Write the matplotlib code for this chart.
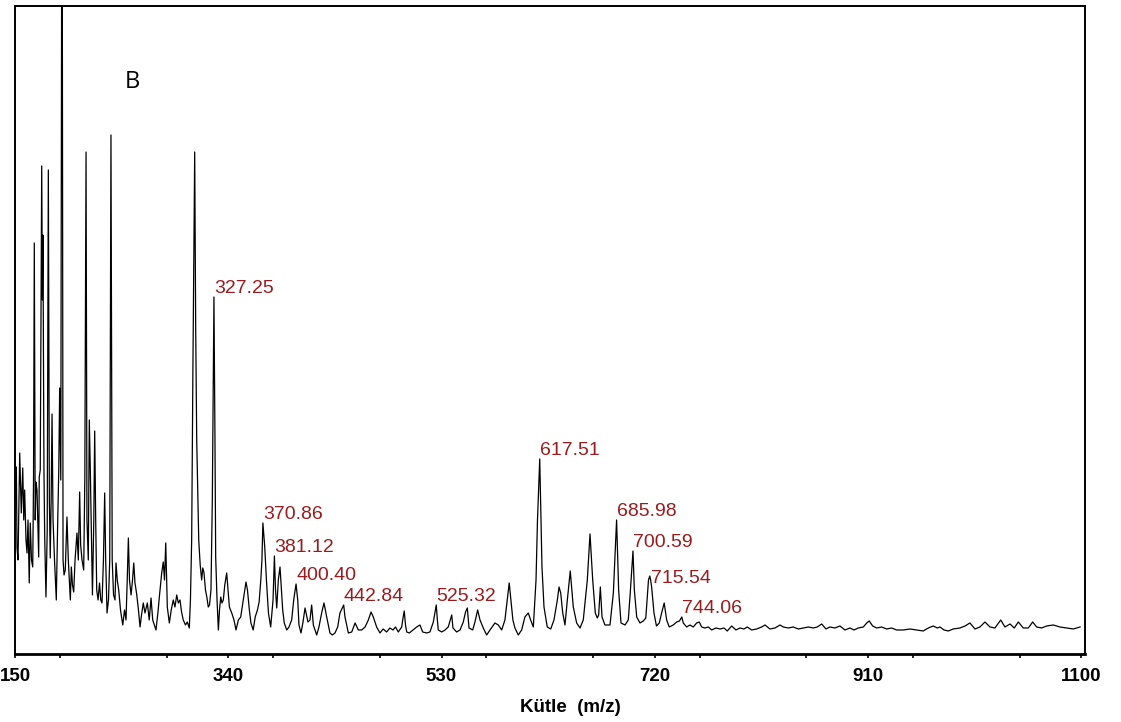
"""
Kütle spektrumu (B) - m/z 150-1100
"""

import matplotlib
matplotlib.use('Agg')
import matplotlib.pyplot as plt
from matplotlib.ticker import MultipleLocator

plt.rcParams['font.family'] = ['Liberation Sans', 'DejaVu Sans']

# spektrum: m/z ve şiddet (keyfi birim), resimden okunan köşe noktaları
spectrum_mz = [
    150.0, 151.2, 151.8, 152.7, 154.2, 155.6, 156.9, 157.8, 158.6, 159.8,
    160.7, 161.6, 162.7, 163.6, 164.7, 165.8, 166.5, 167.2, 168.0, 168.7,
    169.6, 170.5, 171.1, 171.6, 172.5, 173.8, 174.4, 174.9, 175.8, 176.5,
    177.6, 178.7, 179.7, 180.6, 181.4, 182.2, 183.0, 183.9, 185.2, 186.8,
    187.9, 189.0, 189.8, 190.8, 191.9, 192.8, 193.7, 194.8, 196.3, 197.5,
    199.3, 200.2, 201.2, 202.3, 203.5, 205.2, 206.4, 207.6, 208.5, 209.7,
    211.2, 212.2, 213.3, 214.1, 215.3, 216.2, 217.1, 218.2, 219.0, 220.2,
    221.0, 221.9, 222.8, 224.0, 225.3, 226.4, 227.5, 228.8, 229.9, 230.8,
    232.0, 233.3, 234.4, 235.5, 236.6, 237.8, 239.1, 240.0, 241.1, 242.4,
    244.0, 246.0, 247.6, 248.9, 250.0, 251.0, 252.0, 253.4, 254.7, 255.8,
    256.9, 258.4, 260.0, 261.4, 262.7, 264.3, 265.8, 267.9, 269.6, 271.2,
    272.7, 274.1, 275.6, 277.4, 278.6, 280.7, 282.1, 283.2, 284.3, 285.7,
    287.5, 289.2, 291.0, 292.5, 294.1, 295.5, 297.0, 298.4, 299.9, 301.9,
    303.5, 305.3, 306.3, 307.4, 308.5, 310.1, 311.0, 311.9, 313.7, 315.0,
    316.3, 317.3, 318.4, 319.7, 320.9, 322.2, 323.3, 324.6, 325.8, 327.25,
    328.1, 328.8, 330.0, 331.2, 332.2, 333.3, 334.4, 335.6, 336.9, 338.6,
    339.8, 341.0, 343.1, 345.1, 346.9, 349.0, 351.1, 353.4, 355.8, 357.1,
    358.8, 360.2, 362.2, 364.0, 366.0, 367.5, 369.0, 370.0, 370.86, 372.5,
    374.0, 375.8, 377.8, 379.9, 381.12, 382.1, 383.2, 384.6, 386.1, 387.4,
    388.5, 389.9, 392.1, 394.1, 396.5, 398.3, 400.40, 401.9, 403.0, 404.8,
    406.6, 408.4, 409.7, 411.0, 412.8, 414.3, 415.8, 418.8, 420.8, 423.2,
    425.3, 427.7, 430.6, 432.7, 435.1, 437.5, 439.5, 442.84, 444.0, 447.0,
    450.0, 453.0, 455.9, 458.9, 461.9, 464.8, 467.2, 469.2, 472.2, 475.2,
    478.0, 481.1, 484.0, 486.8, 489.0, 491.5, 494.5, 495.7, 496.8, 497.9,
    499.0, 501.3, 504.6, 507.9, 510.8, 513.2, 516.8, 519.7, 522.7, 525.32,
    526.3, 527.1, 530.2, 533.1, 536.0, 537.8, 539.1, 540.2, 543.5, 546.5,
    549.4, 551.4, 553.0, 554.5, 557.8, 559.8, 562.2, 564.3, 567.2, 570.2,
    573.2, 577.6, 580.6, 583.6, 586.5, 588.9, 590.3, 591.8, 593.6, 595.4,
    598.4, 601.4, 604.3, 607.3, 609.4, 611.8, 614.2, 615.5, 617.51, 618.6,
    619.5, 621.3, 624.2, 627.3, 630.2, 633.2, 634.7, 636.2, 638.0, 640.0,
    642.1, 644.7, 647.4, 650.4, 653.4, 656.3, 659.9, 662.3, 664.7, 667.0,
    668.8, 670.0, 671.5, 673.0, 675.6, 680.1, 683.1, 685.98, 687.8, 689.9,
    693.5, 696.4, 697.9, 700.59, 701.8, 703.9, 706.8, 709.8, 712.0, 714.4,
    715.54, 716.3, 717.2, 719.3, 721.5, 724.0, 726.1, 728.4, 730.6, 732.9,
    736.5, 739.5, 742.0, 744.06, 745.4, 748.4, 751.3, 754.3, 757.3, 759.6,
    761.8, 764.7, 767.7, 770.7, 774.5, 778.1, 781.7, 784.6, 788.5, 792.3,
    795.9, 799.5, 802.4, 806.3, 810.8, 815.2, 818.2, 822.6, 827.1, 831.6,
    834.5, 839.0, 843.4, 847.9, 852.3, 856.8, 861.2, 864.8, 868.7, 872.5,
    876.1, 880.5, 885.0, 889.4, 893.9, 897.5, 901.3, 905.8, 908.8, 911.1,
    914.1, 917.7, 922.1, 926.6, 931.0, 935.5, 941.4, 947.4, 953.3, 959.2,
    963.7, 968.1, 971.7, 974.1, 977.7, 981.5, 985.9, 991.9, 996.4, 1000.8,
    1005.3, 1009.7, 1014.2, 1018.6, 1023.1, 1028.2, 1032.0, 1036.5, 1040.3, 1043.9,
    1048.3, 1052.8, 1056.7, 1060.2, 1064.7, 1069.1, 1075.0, 1081.0, 1086.9, 1092.9,
    1098.9,
]
spectrum_int = [
    154, 187, 106, 94, 201, 141, 186, 134, 164, 114,
    101, 134, 71, 131, 94, 87, 174, 411, 134, 172,
    164, 124, 97, 177, 184, 488, 354, 419, 184, 114,
    57, 124, 484, 154, 96, 154, 240, 134, 94, 54,
    124, 184, 266, 174, 900, 94, 79, 84, 137, 94,
    54, 87, 69, 62, 94, 121, 94, 162, 109, 94,
    84, 174, 502, 134, 94, 234, 184, 114, 59, 134,
    223, 134, 64, 54, 71, 54, 51, 94, 161, 94,
    41, 54, 94, 519, 94, 59, 54, 91, 74, 64,
    44, 29, 44, 34, 74, 116, 74, 59, 74, 91,
    71, 60, 44, 27, 39, 51, 41, 51, 34, 56,
    34, 29, 24, 42, 57, 81, 92, 74, 111, 47,
    31, 44, 54, 47, 59, 51, 54, 42, 34, 29,
    32, 26, 54, 114, 284, 502, 324, 214, 114, 89,
    74, 86, 81, 64, 57, 47, 49, 64, 154, 357,
    224, 97, 54, 24, 44, 57, 51, 54, 69, 81,
    64, 47, 41, 34, 24, 34, 37, 54, 72, 64,
    44, 31, 24, 37, 44, 52, 74, 94, 131, 107,
    74, 41, 27, 54, 98, 64, 46, 74, 87, 64,
    44, 31, 24, 27, 34, 54, 70, 54, 29, 21,
    32, 46, 39, 32, 34, 49, 29, 19, 27, 41,
    51, 37, 21, 19, 21, 27, 41, 49, 37, 21,
    22, 31, 24, 24, 27, 34, 42, 37, 27, 21,
    25, 22, 26, 24, 27, 22, 27, 36, 43, 29,
    22, 21, 24, 27, 29, 22, 21, 22, 32, 49,
    34, 24, 22, 24, 27, 34, 39, 26, 22, 24,
    32, 42, 46, 26, 24, 32, 44, 34, 26, 19,
    24, 31, 29, 24, 34, 57, 71, 54, 34, 26,
    19, 24, 37, 41, 34, 27, 74, 134, 195, 134,
    87, 47, 27, 25, 34, 54, 67, 61, 41, 29,
    54, 83, 47, 31, 26, 34, 74, 120, 74, 41,
    36, 39, 67, 37, 29, 29, 61, 134, 64, 31,
    29, 34, 57, 103, 64, 37, 31, 33, 36, 74,
    78, 74, 67, 41, 28, 31, 41, 51, 34, 27,
    29, 32, 33, 37, 31, 27, 29, 27, 31, 32,
    27, 26, 27, 24, 26, 25, 26, 23, 28, 24,
    26, 25, 27, 24, 25, 27, 29, 25, 26, 29,
    27, 26, 27, 25, 26, 27, 26, 27, 30, 25,
    27, 26, 28, 24, 26, 24, 26, 27, 31, 33,
    28, 26, 27, 25, 26, 24, 24, 25, 24, 23,
    26, 28, 26, 27, 24, 23, 25, 26, 28, 31,
    25, 27, 32, 27, 26, 34, 27, 30, 26, 32,
    26, 26, 32, 27, 26, 28, 29, 27, 26, 25,
    27,
]

# etiketli tepe noktaları
peak_labels = ['327.25', '370.86', '381.12', '400.40', '442.84', '525.32',
               '617.51', '685.98', '700.59', '715.54', '744.06']
peak_mz = [327.25, 370.86, 381.12, 400.40, 442.84, 525.32,
           617.51, 685.98, 700.59, 715.54, 744.06]
peak_int = [357, 131, 98, 70, 49, 49, 195, 134, 103, 78, 37]

x_ticks = [150, 340, 530, 720, 910, 1100]

fig = plt.figure(figsize=(11.21, 7.22), dpi=100)
ax = fig.add_axes([0.01338, 0.0942, 0.9545, 0.8975])

ax.plot(spectrum_mz, spectrum_int, color='black', lw=0.9)

ax.set_xlim(150, 1103.3)
ax.set_ylim(0, 648)

# etiketler
label_color = '#991B1E'
for txt, mz, h in zip(peak_labels, peak_mz, peak_int):
    off = (0, 3)
    if txt == '715.54':
        off = (1, -5)
    ax.annotate(txt, xy=(mz, h), xytext=off, textcoords='offset points',
                ha='left', va='baseline', fontsize=14, color=label_color)

ax.text(0.110, 0.883, 'B', transform=ax.transAxes, ha='center', va='center',
        fontsize=17, family=['Open Sans', 'DejaVu Sans'])

# eksenler
ax.set_xticks(x_ticks)
ax.set_xticklabels([str(t) for t in x_ticks], fontweight='bold')
ax.xaxis.set_minor_locator(MultipleLocator(95))
ax.tick_params(axis='x', which='major', direction='out', length=3, width=1.2,
               pad=7, labelsize=13.5)
ax.tick_params(axis='x', which='minor', direction='out', length=3, width=1.2)
ax.set_yticks([])

ax.set_xlabel('Kütle  (m/z)', fontsize=13.5, fontweight='bold', va='center')
ax.xaxis.set_label_coords(0.519, -0.0833)

for side in ['left', 'right', 'top']:
    ax.spines[side].set_linewidth(1.4)
    ax.spines[side].set_color('black')
ax.spines['bottom'].set_linewidth(2)

fig.savefig('out.png', dpi=100, facecolor='white')
